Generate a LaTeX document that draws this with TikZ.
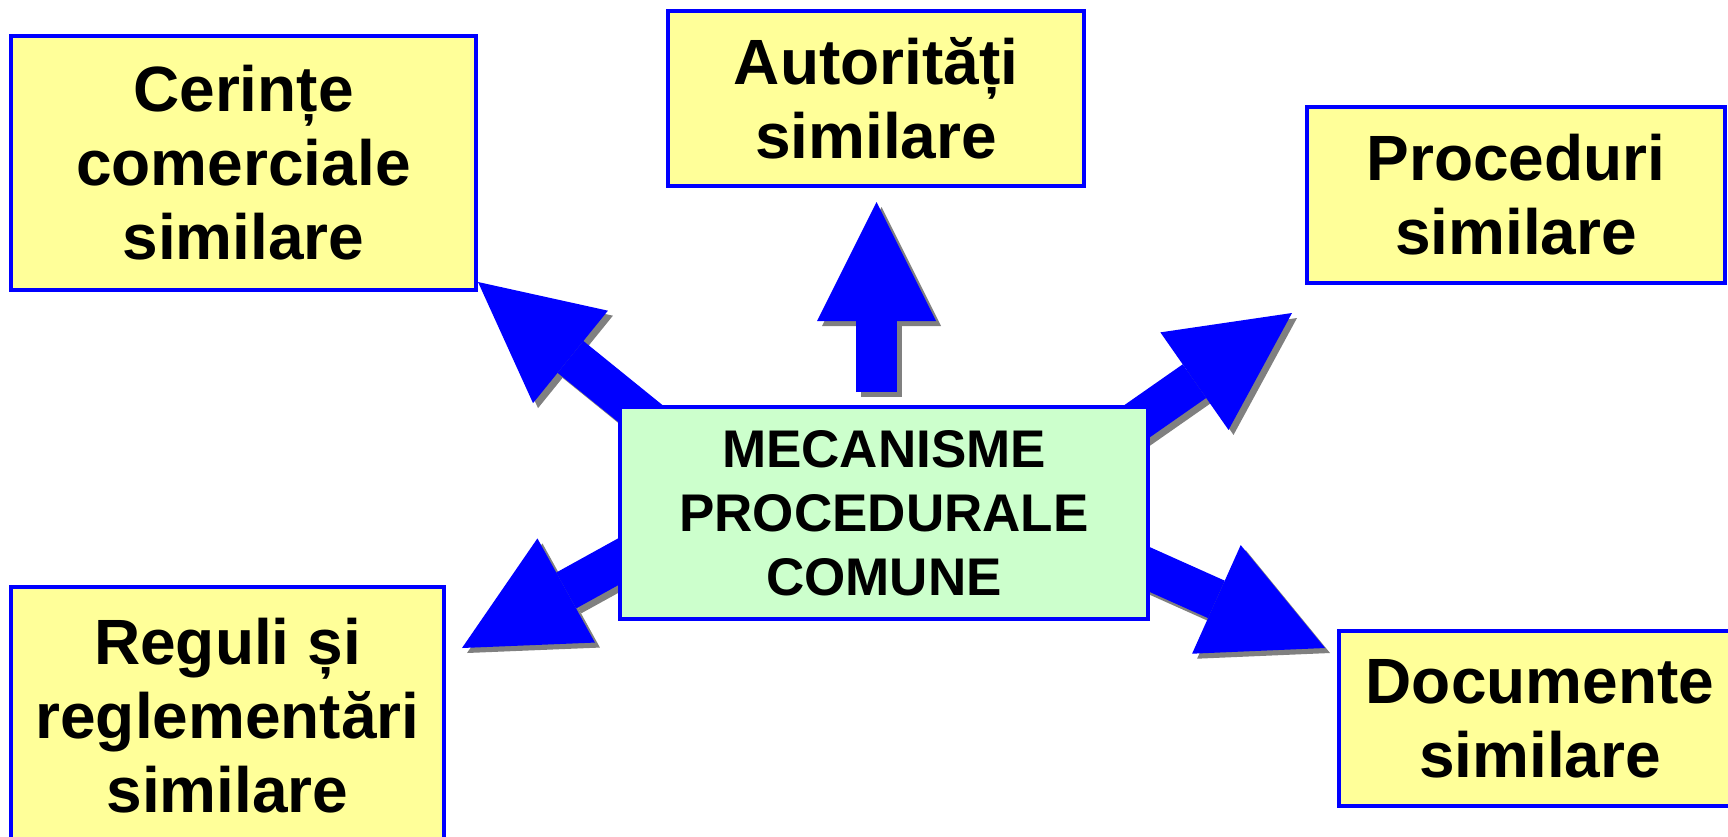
\documentclass[tikz,border=0pt]{standalone}
\usepackage{fontspec}
\setmainfont{Liberation Sans}
\usetikzlibrary{arrows.meta}
\definecolor{mint}{HTML}{CCFFCC}
\definecolor{paleyellow}{HTML}{FFFF99}

\begin{document}
\begin{tikzpicture}[x=0.5pt,y=-0.5pt,
  box/.style={rectangle,draw=blue,line width=1.9pt,fill=paleyellow,inner sep=0pt,
    align=center,font=\fontsize{32}{37}\selectfont\bfseries},
  bigarrow/.style={line width=20.5pt,-{Triangle[length=59.5pt 0 0,width=59.5pt 0,line width=0pt]}}]

\useasboundingbox (0,0) rectangle (1728,836);
\clip (0,0) rectangle (1728,836);

% arrow ends
\coordinate (t1) at (657,427);   \coordinate (h1) at (478,282);
\coordinate (t2) at (876.5,392); \coordinate (h2) at (876.5,202);
\coordinate (t3) at (1103,445);  \coordinate (h3) at (1292,313);
\coordinate (t4) at (663,537);   \coordinate (h4) at (462,648);
\coordinate (t5) at (1115,554);  \coordinate (h5) at (1325,648);

\foreach \t/\h in {t1/h1,t2/h2,t3/h3,t4/h4,t5/h5}
  \draw[bigarrow,gray,transform canvas={xshift=2.5pt,yshift=-2.5pt}] (\t) -- (\h);
\foreach \t/\h in {t1/h1,t2/h2,t3/h3,t4/h4,t5/h5}
  \draw[bigarrow,blue] (\t) -- (\h);

\node[box,fill=mint,minimum width=264pt,minimum height=106pt,
      font=\fontsize{26.5}{32}\selectfont\bfseries] (mec) at (884,513)
      {MECANISME\\PROCEDURALE\\COMUNE};

\node[box,minimum width=232.5pt,minimum height=127pt] (cer) at (243.5,163) {Cerințe\\comerciale\\similare};
\node[box,minimum width=208pt,minimum height=87.5pt] (aut) at (876,98.5) {Autorități\\similare};
\node[box,minimum width=209pt,minimum height=88pt] (pro) at (1516,195) {Proceduri\\similare};
\node[box,minimum width=216.5pt,minimum height=129pt] (reg) at (227.5,716) {Reguli și\\reglementări\\similare};
\node[box,minimum width=201pt,minimum height=87.5pt] (doc) at (1540,718.5) {Documente\\similare};
\end{tikzpicture}
\end{document}
